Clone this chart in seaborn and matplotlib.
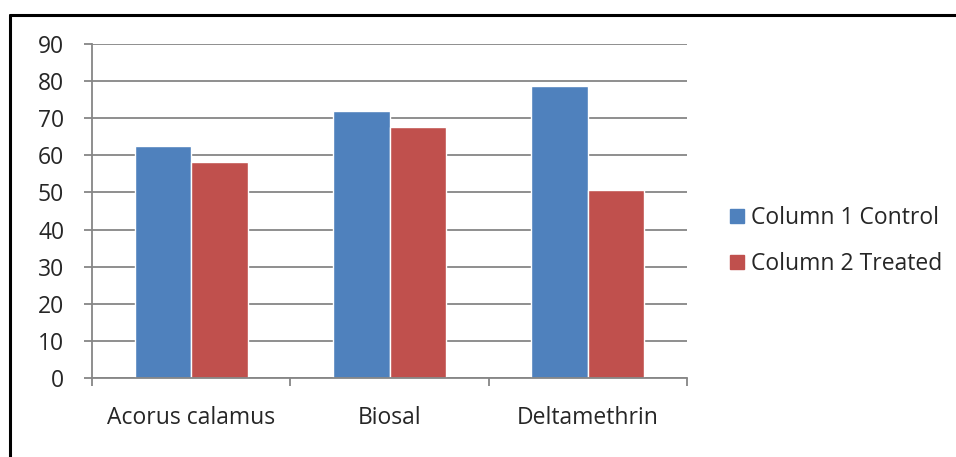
import matplotlib
matplotlib.use("Agg")
from matplotlib import pyplot as plt
from matplotlib.lines import Line2D
import pandas as pd
import seaborn as sns

categories = ["Acorus calamus", "Biosal", "Deltamethrin"]
control = [62.4, 72.0, 78.7]
treated = [58.2, 67.7, 50.6]
series_names = ["Column 1 Control", "Column 2 Treated"]
colors = ["#4F81BD", "#C0504D"]

df = pd.DataFrame({
    "category": categories * 2,
    "value": control + treated,
    "series": [series_names[0]] * 3 + [series_names[1]] * 3,
})

sns.set_style("white")
plt.rcParams["font.family"] = ["Open Sans", "DejaVu Sans"]
grid_c = "#868686"
fs = 16.5

fig = plt.figure(figsize=(9.56, 4.57), dpi=100)
ax = fig.add_axes([92 / 956, 1 - 378 / 457, (687 - 92) / 956, (378 - 44) / 457])

sns.barplot(data=df, x="category", y="value", hue="series", palette=colors,
            width=2 / 3.5, saturation=1, ax=ax, legend=False)

ax.set_ylim(0, 90)
ax.set_xlim(-0.5, 2.5)
ax.set_yticks(range(0, 91, 10))
ax.yaxis.grid(True, color=grid_c, lw=1.3)
ax.set_axisbelow(True)
ax.set_xlabel("")
ax.set_ylabel("")

for s in ["top", "right"]:
    ax.spines[s].set_visible(False)
for s in ["left", "bottom"]:
    ax.spines[s].set_color(grid_c)
    ax.spines[s].set_linewidth(1.3)

ax.tick_params(axis="y", length=6, width=1.3, color=grid_c, pad=14, labelsize=fs, left=True)
ax.tick_params(axis="x", which="major", length=0, pad=20, labelsize=fs)
ax.set_xticks([-0.5, 0.5, 1.5, 2.5], minor=True)
ax.tick_params(axis="x", which="minor", length=6, width=1.3, color=grid_c, bottom=True)

handles = [Line2D([], [], marker="s", ls="", markersize=10.5, color=c) for c in colors]
fig.legend(handles, series_names, loc="center left", bbox_to_anchor=(704 / 956, 1 - 241 / 457),
           frameon=False, fontsize=fs, labelspacing=1.0, handletextpad=0.05, handlelength=1.1)

# outer frame: top and left edges only
fig.add_artist(Line2D([10 / 956, 1], [1 - 15 / 457] * 2, transform=fig.transFigure, color="black", lw=2.2))
fig.add_artist(Line2D([10 / 956] * 2, [0, 1 - 15 / 457], transform=fig.transFigure, color="black", lw=2.2))

fig.savefig("out.png", dpi=100, facecolor="white")
